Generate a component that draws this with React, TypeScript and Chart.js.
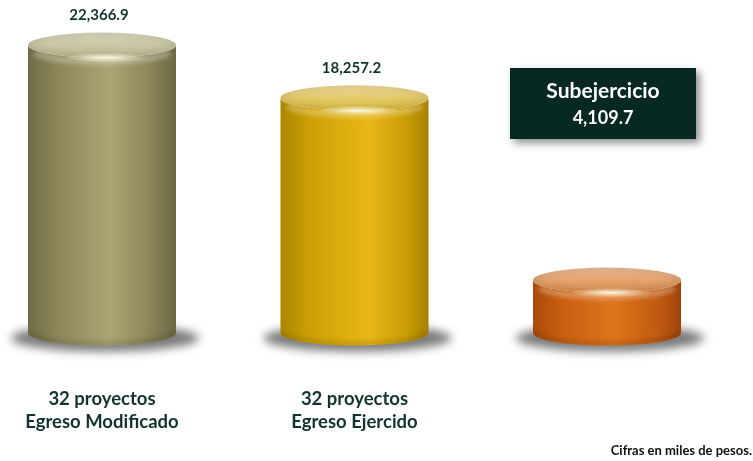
import React, { useEffect, useRef } from "react";
import { Chart, registerables } from "chart.js";

Chart.register(...registerables);

// ---- data ----
const categories: (string | string[])[] = [
  ["32 proyectos", "Egreso Modificado"],
  ["32 proyectos", "Egreso Ejercido"],
  "",
];
const values = [22366.9, 18257.2, 4109.7];
const boxTitle = "Subejercicio";
const footnote = "Cifras en miles de pesos.";

// ---- styles ----
const TEXT = "#123330";
const FONT = "Lato, 'Open Sans', sans-serif";
type Pal = { body: [number, string][]; cap: [string, string] };
const palettes: Pal[] = [
  {
    body: [[0, "#6f6b45"], [0.2, "#8c875b"], [0.55, "#aca574"], [0.8, "#8e895c"], [1, "#6c6843"]],
    cap: ["#d8d6bc", "#bdb890"],
  },
  {
    body: [[0, "#ad8500"], [0.2, "#cca006"], [0.6, "#e8b716"], [0.85, "#c99d06"], [1, "#a68000"]],
    cap: ["#efdb98", "#dab83e"],
  },
  {
    body: [[0, "#ab4a0b"], [0.2, "#c96013"], [0.55, "#de741a"], [0.85, "#c05a12"], [1, "#9e440a"]],
    cap: ["#ecbc96", "#d98c4a"],
  },
];

const fmt = (v: number) =>
  v.toLocaleString("en-US", { minimumFractionDigits: 1, maximumFractionDigits: 1 });

function drawCylinder(ctx: CanvasRenderingContext2D, x: number, top: number, base: number, w: number, pal: Pal) {
  const rx = w / 2;
  const ry = w * 0.085;
  // shadow
  ctx.save();
  ctx.filter = "blur(5px)";
  ctx.fillStyle = "rgba(70,70,70,0.72)";
  ctx.beginPath();
  ctx.ellipse(x + 3, base + 5, rx + 20, ry + 1, 0, 0, Math.PI * 2);
  ctx.fill();
  ctx.restore();

  // body
  ctx.save();
  const g = ctx.createLinearGradient(x - rx, 0, x + rx, 0);
  pal.body.forEach(([p, c]) => g.addColorStop(p, c));
  ctx.beginPath();
  ctx.moveTo(x - rx, top);
  ctx.lineTo(x - rx, base);
  ctx.ellipse(x, base, rx, ry, 0, Math.PI, 0, true);
  ctx.lineTo(x + rx, top);
  ctx.ellipse(x, top, rx, ry, 0, 0, Math.PI, false);
  ctx.closePath();
  ctx.fillStyle = g;
  ctx.fill();
  ctx.clip();
  // bevel highlight under rim
  ctx.filter = "blur(2px)";
  ctx.strokeStyle = "rgba(255,255,255,0.3)";
  ctx.lineWidth = 6;
  ctx.beginPath();
  ctx.ellipse(x, top + 4, rx - 3, ry, 0, 0.1 * Math.PI, 0.9 * Math.PI, false);
  ctx.stroke();
  // darker bottom rim
  ctx.strokeStyle = "rgba(0,0,0,0.15)";
  ctx.lineWidth = 4;
  ctx.beginPath();
  ctx.ellipse(x, base - 2, rx, ry, 0, 0.05 * Math.PI, 0.95 * Math.PI, false);
  ctx.stroke();
  ctx.restore();

  // cap
  ctx.save();
  const cg = ctx.createLinearGradient(0, top - ry, 0, top + ry);
  cg.addColorStop(0, pal.cap[0]);
  cg.addColorStop(1, pal.cap[1]);
  ctx.beginPath();
  ctx.ellipse(x, top, rx, ry, 0, 0, Math.PI * 2);
  ctx.fillStyle = cg;
  ctx.fill();
  ctx.clip();
  // soft edge shading on cap (rounded bevel)
  ctx.filter = "blur(3px)";
  ctx.strokeStyle = "rgba(0,0,0,0.10)";
  ctx.lineWidth = 6;
  ctx.beginPath();
  ctx.ellipse(x, top, rx, ry, 0, 0, Math.PI * 2);
  ctx.stroke();
  ctx.restore();

  // specular highlight at front rim
  ctx.save();
  ctx.translate(x + 4, top + ry);
  ctx.scale(2.6, 0.3);
  const rg = ctx.createRadialGradient(0, 0, 0, 0, 0, 16);
  rg.addColorStop(0, "rgba(255,255,235,0.95)");
  rg.addColorStop(1, "rgba(255,255,235,0)");
  ctx.fillStyle = rg;
  ctx.beginPath();
  ctx.arc(0, 0, 16, 0, Math.PI * 2);
  ctx.fill();
  ctx.restore();
}

const cylinderPlugin = {
  id: "cylinders",
  afterDatasetsDraw(chart: any) {
    const ctx: CanvasRenderingContext2D = chart.ctx;
    const meta = chart.getDatasetMeta(0);
    meta.data.forEach((bar: any, i: number) => {
      const { x, y, base, width } = bar.getProps(["x", "y", "base", "width"], true);
      drawCylinder(ctx, x, y, base, width, palettes[i % palettes.length]);
      const v = values[i];
      if (i < values.length - 1) {
        ctx.save();
        ctx.fillStyle = TEXT;
        ctx.font = `bold 15px ${FONT}`;
        ctx.textAlign = "center";
        ctx.textBaseline = "middle";
        ctx.fillText(fmt(v), x - 3, y - 30);
        ctx.restore();
      } else {
        // annotation box
        const cx = x - 4;
        const bw = 186;
        const bx = cx - bw / 2;
        const by = 68;
        const bh = 71;
        ctx.save();
        ctx.shadowColor = "rgba(0,0,0,0.45)";
        ctx.shadowBlur = 8;
        ctx.shadowOffsetX = 4;
        ctx.shadowOffsetY = 4;
        ctx.fillStyle = "#082824";
        ctx.fillRect(bx, by, bw, bh);
        ctx.restore();
        ctx.save();
        ctx.fillStyle = "#ffffff";
        ctx.textAlign = "center";
        ctx.textBaseline = "middle";
        ctx.font = `bold 21px ${FONT}`;
        ctx.fillText(boxTitle, cx, 91);
        ctx.font = `bold 18px ${FONT}`;
        ctx.fillText(fmt(v), cx, 118);
        ctx.restore();
      }
    });
    // footnote
    ctx.save();
    ctx.fillStyle = "#111111";
    ctx.font = `bold 13px ${FONT}`;
    ctx.textAlign = "right";
    ctx.textBaseline = "middle";
    ctx.fillText(footnote, 752, 451);
    ctx.restore();
  },
};

export default function App() {
  const ref = useRef<HTMLCanvasElement | null>(null);
  useEffect(() => {
    let chart: Chart | null = null;
    let cancelled = false;
    const make = () => {
      if (cancelled || !ref.current) return;
      chart = new Chart(ref.current, {
        type: "bar",
        data: {
          labels: categories as any,
          datasets: [
            {
              data: values,
              backgroundColor: "rgba(0,0,0,0)",
              borderWidth: 0,
              barThickness: 148,
            },
          ],
        },
        options: {
          animation: false,
          responsive: false,
          devicePixelRatio: 1,
          layout: { padding: { left: 102, right: 146, top: 24, bottom: 0 } },
          plugins: { legend: { display: false }, tooltip: { enabled: false } },
          scales: {
            x: {
              offset: false,
              grid: { display: false, drawTicks: false },
              border: { display: false },
              afterFit: (scale: any) => {
                scale.height = 128;
                scale.paddingLeft = 0;
                scale.paddingRight = 0;
              },
              ticks: {
                autoSkip: false,
                maxRotation: 0,
                padding: 55,
                color: TEXT,
                font: { family: FONT, size: 18.5, weight: "bold", lineHeight: 1.24 },
              },
            },
            y: { display: false, min: 0, max: 24000 },
          },
        },
        plugins: [cylinderPlugin],
      } as any);
    };
    const fonts: any = (document as any).fonts;
    if (fonts && fonts.load) {
      Promise.all([fonts.load(`bold 16px Lato`), fonts.load(`bold 11px Lato`)])
        .catch(() => null)
        .then(make);
    } else make();
    return () => {
      cancelled = true;
      if (chart) chart.destroy();
    };
  }, []);
  return (
    <div style={{ position: "fixed", left: 0, top: 0, width: 753, height: 461, background: "#fff" }}>
      <canvas ref={ref} width={753} height={461} style={{ display: "block" }} />
    </div>
  );
}
